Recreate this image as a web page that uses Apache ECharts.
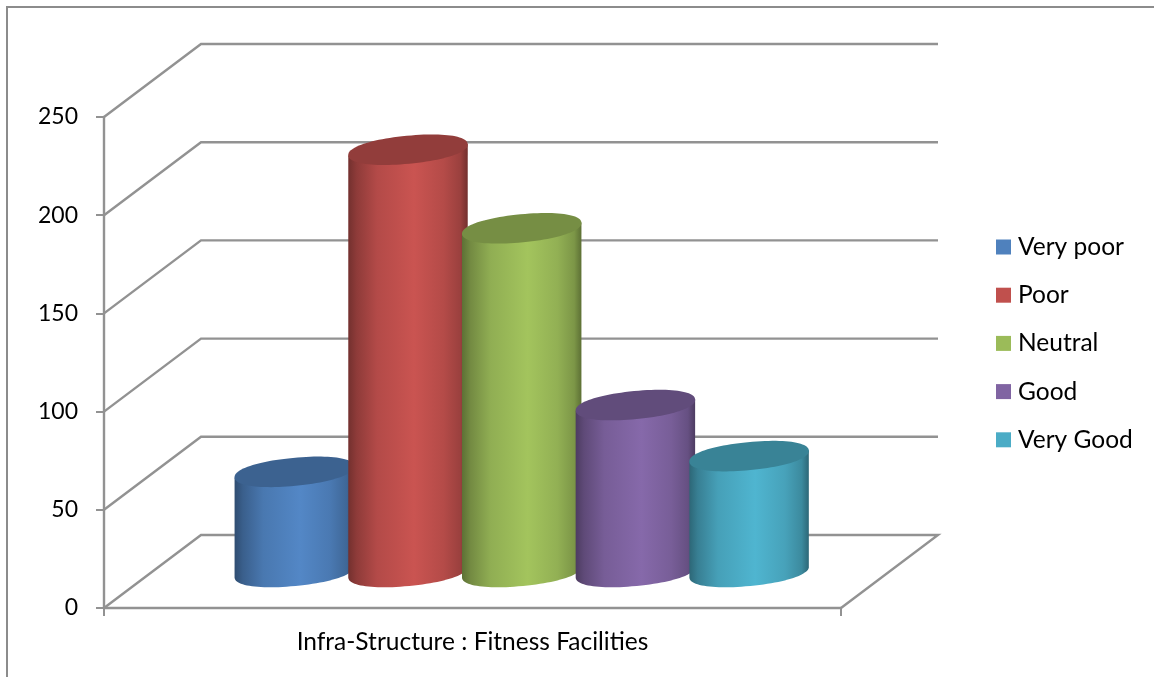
<!DOCTYPE html>
<html>
<head>
<meta charset="utf-8">
<style>
  html, body { margin: 0; padding: 0; background: #fff; }
  #chart { width: 1154px; height: 677px; }
</style>
<script src="https://cdn.jsdelivr.net/npm/echarts@6/dist/echarts.min.js"></script>
</head>
<body>
<div id="chart"></div>
<script>
const categories = ['Infra-Structure : Fitness Facilities']
const seriesNames = ['Very poor', 'Poor', 'Neutral', 'Good', 'Very Good']
const seriesValues = [51, 215, 175, 85, 59]
const seriesColors = ['#4f81bd', '#c0504d', '#9bbb59', '#8064a2', '#4bacc6']
const yTicks = [0, 50, 100, 150, 200, 250]

const GRID_COLOR = '#929292'
const FONT = 'Lato'
// offset of the back wall from the front of the floor
const DEPTH_X = 97
const DEPTH_Y = 73
// cylinder geometry
const STEP = 113.7
const SHIFT_X = 49.2
const RX = 60
const RY = 14
const TILT = -5.5 * Math.PI / 180
const LIFT = 36
const ROUNDNESS = 0.93
const SAMPLES = 96

const shade = (hex, k) => {
  const n = parseInt(hex.slice(1), 16)
  const ch = [n >> 16, (n >> 8) & 255, n & 255].map(c => Math.min(255, Math.round(c * k)))
  return `rgb(${ch.join(',')})`
}

// slightly squared-off ellipse, the cylinder caps are blunter than a true ellipse
const capPoints = (cx, cy) => {
  const pts = []
  for (let i = 0; i < SAMPLES; i++) {
    const t = (i / SAMPLES) * 2 * Math.PI
    const u = RX * Math.sign(Math.cos(t)) * Math.pow(Math.abs(Math.cos(t)), ROUNDNESS)
    const v = RY * Math.sign(Math.sin(t)) * Math.pow(Math.abs(Math.sin(t)), ROUNDNESS)
    pts.push([cx + u * Math.cos(TILT) - v * Math.sin(TILT), cy + u * Math.sin(TILT) + v * Math.cos(TILT)])
  }
  return pts
}

const renderWall = (params, api) => {
  const [x, y] = api.coord([0, api.value(0)])
  const half = api.size([1, 0])[0] / 2
  const left = x - half
  const right = x + half
  const pts = [[left, y], [left + DEPTH_X, y - DEPTH_Y], [right + DEPTH_X, y - DEPTH_Y]]
  if (api.value(0) === 0) pts.push([right, y])
  return {
    type: 'polyline',
    shape: { points: pts },
    style: { stroke: GRID_COLOR, lineWidth: 2.4, fill: null },
  }
}

const renderCylinder = (index) => (params, api) => {
  const base = seriesColors[index]
  const [x0, y0] = api.coord([0, 0])
  const [, yTop] = api.coord([0, api.value(1)])
  const cx = x0 + SHIFT_X + (index - 2) * STEP
  const top = capPoints(cx, yTop - LIFT)
  const bottom = capPoints(cx, y0 - LIFT)

  // find the side edges, then walk the lower half of the bottom cap between them
  let iLeft = 0
  let iRight = 0
  bottom.forEach((p, i) => {
    if (p[0] < bottom[iLeft][0]) iLeft = i
    if (p[0] > bottom[iRight][0]) iRight = i
  })
  const body = [top[iLeft]]
  for (let i = iLeft; i !== iRight; i = (i - 1 + SAMPLES) % SAMPLES) body.push(bottom[i])
  body.push(bottom[iRight], top[iRight])

  return {
    type: 'group',
    children: [
      {
        type: 'polygon',
        shape: { points: body },
        style: {
          fill: new echarts.graphic.LinearGradient(0, 0, 1, 0, [
            { offset: 0, color: shade(base, 0.6) },
            { offset: 0.07, color: shade(base, 0.74) },
            { offset: 0.24, color: shade(base, 0.93) },
            { offset: 0.55, color: shade(base, 1.05) },
            { offset: 0.8, color: shade(base, 0.94) },
            { offset: 0.94, color: shade(base, 0.8) },
            { offset: 1, color: shade(base, 0.6) },
          ]),
        },
      },
      { type: 'polygon', shape: { points: top }, style: { fill: shade(base, 0.76) } },
    ],
  }
}

const chart = echarts.init(document.getElementById('chart'))

chart.setOption({
  animation: false,
  backgroundColor: '#fff',
  graphic: [
    {
      type: 'polyline',
      shape: { points: [[7, 677], [7, 7], [1154, 7]] },
      style: { stroke: '#8c8c8c', lineWidth: 2, fill: null },
    },
  ],
  grid: { left: 104, top: 117, width: 737, height: 491 },
  legend: {
    left: 996,
    top: 234,
    padding: 0,
    orient: 'vertical',
    icon: 'rect',
    itemWidth: 15,
    itemHeight: 15,
    itemGap: 22.2,
    data: seriesNames,
    selectedMode: false,
    textStyle: { fontFamily: FONT, fontSize: 24.5, color: '#000', lineHeight: 26, padding: [0, 0, 0, 2] },
  },
  xAxis: {
    type: 'category',
    data: categories,
    axisLine: { lineStyle: { color: GRID_COLOR, width: 2.4 } },
    axisTick: { show: true, length: 8, lineStyle: { color: GRID_COLOR, width: 2 } },
    axisLabel: { fontFamily: FONT, fontSize: 24.5, color: '#000', margin: 22 },
    splitLine: { show: false },
  },
  yAxis: {
    type: 'value',
    min: 0,
    max: 250,
    interval: 50,
    axisLine: { show: true, lineStyle: { color: GRID_COLOR, width: 2.4 } },
    axisTick: { show: true, length: 8, lineStyle: { color: GRID_COLOR, width: 2 } },
    axisLabel: { fontFamily: FONT, fontSize: 23, color: '#000', margin: 26 },
    splitLine: { show: false },
  },
  series: [
    {
      type: 'custom',
      name: 'walls',
      z: 1,
      silent: true,
      renderItem: renderWall,
      encode: { y: 0 },
      data: yTicks.map(t => [t]),
    },
    ...seriesNames.map((name, i) => ({
      type: 'custom',
      name,
      z: 2 + i,
      silent: true,
      itemStyle: { color: seriesColors[i] },
      renderItem: renderCylinder(i),
      encode: { x: 0, y: 1 },
      data: [[0, seriesValues[i]]],
    })),
  ],
})
</script>
</body>
</html>
